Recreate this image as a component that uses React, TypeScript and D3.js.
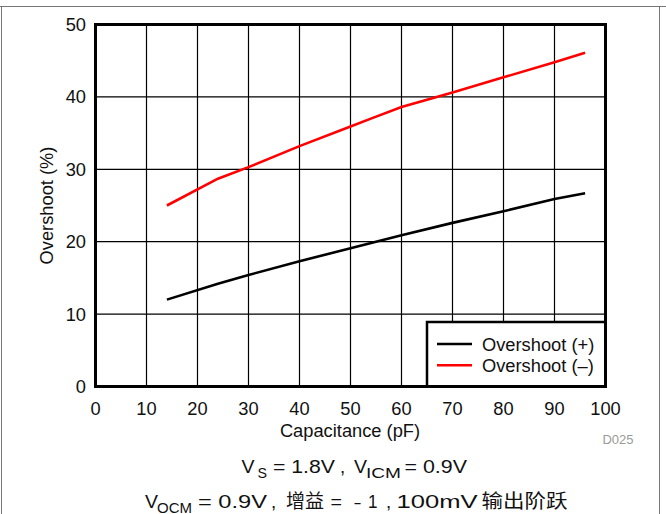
import React from "react";
import * as d3 from "d3";

const xTicks = [0, 10, 20, 30, 40, 50, 60, 70, 80, 90, 100];
const yTicks = [0, 10, 20, 30, 40, 50];

const capPlus = [14, 24, 30, 40, 50, 60, 70, 80, 90, 96];
const overshootPlus = [12.0, 14.2, 15.4, 17.3, 19.1, 20.9, 22.6, 24.2, 25.9, 26.7];

const capMinus = [14, 24, 30, 40, 50, 54, 60, 70, 80, 90, 96];
const overshootMinus = [25.0, 28.7, 30.3, 33.2, 35.9, 37.0, 38.6, 40.6, 42.7, 44.8, 46.1];

const seriesNames = ["Overshoot (+)", "Overshoot (\u2013)"];
const seriesColors = ["#000000", "#ff0000"];

const FONT = "'Liberation Sans', Arial, Helvetica, sans-serif";
const CJK = "'Noto Sans CJK SC', sans-serif";

type Piece = { t: string; x: number; len?: number; sub?: boolean; cjk?: boolean };

const line1: Piece[] = [
  { t: "V", x: 241.5, len: 13 },
  { t: "S", x: 257.5, len: 9.5, sub: true },
  { t: "= 1.8V", x: 273, len: 62 },
  { t: ",", x: 340 },
  { t: "V", x: 354, len: 13 },
  { t: "ICM", x: 366, len: 35, sub: true },
  { t: "= 0.9V", x: 404.5, len: 62.5 },
];

const line2: Piece[] = [
  { t: "V", x: 145, len: 13 },
  { t: "OCM", x: 157, len: 35, sub: true },
  { t: "= 0.9V", x: 198, len: 69 },
  { t: ",", x: 271 },
  { t: "增益", x: 286, len: 38, cjk: true },
  { t: "=", x: 330.5, len: 11.5 },
  { t: "\u2013", x: 354.5, len: 6 },
  { t: "1", x: 368, len: 9.5 },
  { t: ",", x: 386 },
  { t: "100mV", x: 396.5, len: 81 },
  { t: "输出阶跃", x: 481.5, len: 86, cjk: true },
];

function Line({ pieces, y }: { pieces: Piece[]; y: number }) {
  return (
    <g>
      {pieces.map((p, i) => (
        <text
          key={i}
          x={p.x}
          y={p.sub ? y + 4.5 : y}
          fontSize={p.sub ? 15 : p.cjk ? 19 : 18.6}
          fontFamily={p.cjk ? CJK : FONT}
          fill="#111"
          {...(p.len ? { textLength: p.len, lengthAdjust: "spacingAndGlyphs" } : {})}
        >
          {p.t}
        </text>
      ))}
    </g>
  );
}

export default function App() {
  const left = 95.5, right = 605.5, top = 24.5, bottom = 386.5;
  const x = d3.scaleLinear().domain([0, 100]).range([left, right]);
  const y = d3.scaleLinear().domain([0, 50]).range([bottom, top]);

  const line = d3
    .line<[number, number]>()
    .x((d) => x(d[0]))
    .y((d) => y(d[1]));

  const plusData: [number, number][] = capPlus.map((c, i) => [c, overshootPlus[i]]);
  const minusData: [number, number][] = capMinus.map((c, i) => [c, overshootMinus[i]]);

  const legX = 427, legY = 322;

  return (
    <svg
      width={666}
      height={514}
      style={{ position: "absolute", left: 0, top: 0, background: "#fff" }}
      fontFamily={FONT}
    >
      <rect x={0} y={0} width={666} height={514} fill="#fff" />
      {/* outer frame */}
      <line x1={0} y1={6.5} x2={666} y2={6.5} stroke="#777" strokeWidth={1} />
      <line x1={1.5} y1={6.5} x2={1.5} y2={514} stroke="#777" strokeWidth={1} />
      <line x1={659.5} y1={6.5} x2={659.5} y2={514} stroke="#777" strokeWidth={1} />

      {/* grid */}
      {xTicks.slice(1, -1).map((t) => (
        <line key={"gx" + t} x1={x(t)} x2={x(t)} y1={top} y2={bottom} stroke="#000" strokeWidth={1.2} />
      ))}
      {yTicks.slice(1, -1).map((t) => (
        <line key={"gy" + t} x1={left} x2={right} y1={y(t)} y2={y(t)} stroke="#000" strokeWidth={1.2} />
      ))}

      {/* data */}
      <path d={line(plusData) || ""} fill="none" stroke={seriesColors[0]} strokeWidth={2.6} />
      <path d={line(minusData) || ""} fill="none" stroke={seriesColors[1]} strokeWidth={2.6} />

      {/* legend */}
      <rect x={legX} y={legY} width={right - legX} height={bottom - legY} fill="#fff" stroke="#000" strokeWidth={2.5} />
      {seriesNames.map((n, i) => (
        <g key={n}>
          <line x1={437} x2={472} y1={344 + i * 21.3} y2={344 + i * 21.3} stroke={seriesColors[i]} strokeWidth={2.6} />
          <text x={482} y={350.5 + i * 21.3} fontSize={18.3} fill="#111">
            {n}
          </text>
        </g>
      ))}

      {/* plot border */}
      <rect x={left} y={top} width={right - left} height={bottom - top} fill="none" stroke="#000" strokeWidth={3} />

      {/* tick labels */}
      {xTicks.map((t) => (
        <text key={"tx" + t} x={x(t)} y={415} textAnchor="middle" fontSize={18.3} fill="#111">
          {t}
        </text>
      ))}
      {yTicks.map((t) => (
        <text key={"ty" + t} x={86} y={y(t) + 6.5} textAnchor="end" fontSize={18.3} fill="#111">
          {t}
        </text>
      ))}

      {/* axis titles */}
      <text x={350} y={437} textAnchor="middle" fontSize={18.3} fill="#111">
        Capacitance (pF)
      </text>
      <text
        transform={`translate(53,${(top + bottom) / 2}) rotate(-90)`}
        textAnchor="middle"
        fontSize={18.3}
        fill="#111"
      >
        Overshoot (%)
      </text>

      <text x={618} y={444} textAnchor="middle" fontSize={13} fill="#9a9a9a">
        D025
      </text>

      {/* conditions */}
      <Line pieces={line1} y={473} />
      <Line pieces={line2} y={508} />
    </svg>
  );
}
